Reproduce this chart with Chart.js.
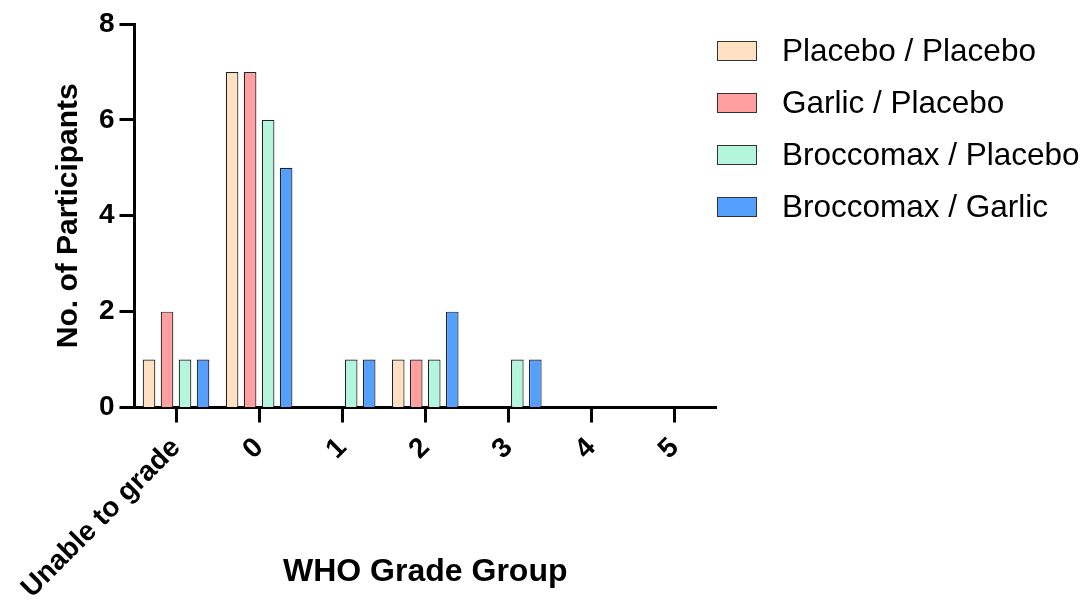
<!DOCTYPE html>
<html>
<head>
<meta charset="utf-8">
<script src="https://cdn.jsdelivr.net/npm/chart.js@4/dist/chart.umd.min.js"></script>
<style>
  html, body { margin: 0; padding: 0; background: #fff; }
  #wrap { position: relative; width: 1083px; height: 601px; }
  #legend {
    position: absolute; left: 717px; top: 24.5px;
    font-family: 'Liberation Sans', Arial, sans-serif; font-size: 31.5px; color: #000;
  }
  .row { height: 52px; display: flex; align-items: center; white-space: nowrap; }
  .swatch { width: 40px; height: 20px; box-sizing: border-box; border: 1px solid #333; margin-right: 25px; flex: none; }
</style>
</head>
<body>
<div id="wrap">
  <canvas id="chart" width="1083" height="601"></canvas>
  <div id="legend"></div>
</div>
<script>
// WHO grade groups on the x axis
const categories = ['Unable to grade', '0', '1', '2', '3', '4', '5'];

// Participant counts per treatment arm
const seriesNames = ['Placebo / Placebo', 'Garlic / Placebo', 'Broccomax / Placebo', 'Broccomax / Garlic'];
const placeboPlacebo   = [1, 7, 0, 1, 0, 0, 0];
const garlicPlacebo    = [2, 7, 0, 1, 0, 0, 0];
const broccomaxPlacebo = [1, 6, 1, 1, 1, 0, 0];
const broccomaxGarlic  = [1, 5, 1, 2, 1, 0, 0];
const seriesColors = ['#FFE0C2', '#FF9F9F', '#B3F5DD', '#55A0FF'];

// y-axis tick values
const yTicks = [0, 2, 4, 6, 8];

const seriesValues = [placeboPlacebo, garlicPlacebo, broccomaxPlacebo, broccomaxGarlic];

Chart.defaults.font.family = "'Liberation Sans', Arial, sans-serif";
Chart.defaults.color = '#000';

const tickFont = { size: 28, weight: 'bold' };

new Chart(document.getElementById('chart'), {
  type: 'bar',
  data: {
    labels: categories,
    datasets: seriesNames.map((name, i) => ({
      label: name,
      data: seriesValues[i],
      backgroundColor: seriesColors[i],
      borderColor: '#222',
      borderWidth: 1.2,
      borderSkipped: 'start',
      barPercentage: 0.7,
      categoryPercentage: 0.867
    }))
  },
  options: {
    responsive: false,
    animation: false,
    layout: { padding: { left: 40, right: 367, top: 24, bottom: 0 } },
    plugins: {
      legend: { display: false },
      tooltip: { enabled: false }
    },
    scales: {
      x: {
        offset: true,
        grid: {
          display: true, offset: false, drawOnChartArea: false,
          tickLength: 15, tickWidth: 3, tickColor: '#000'
        },
        border: { display: true, width: 3, color: '#000' },
        ticks: {
          autoSkip: false, minRotation: 45, maxRotation: 45, padding: 9,
          color: '#000', font: tickFont
        },
        title: {
          display: true, text: 'WHO Grade Group', color: '#000',
          font: { size: 32, weight: 'bold' }, padding: { top: 0, bottom: 10 }
        },
        afterFit(scale) {
          scale.height = 193.5;
          scale.paddingLeft = 0;
          scale.paddingRight = 0;
        }
      },
      y: {
        min: 0, max: 8,
        afterBuildTicks(scale) {
          scale.ticks = yTicks.map(v => ({ value: v }));
        },
        grid: {
          display: true, drawOnChartArea: false,
          tickLength: 15, tickWidth: 3, tickColor: '#000'
        },
        border: { display: true, width: 3, color: '#000' },
        ticks: { padding: 5, color: '#000', font: tickFont },
        title: {
          display: true, text: 'No. of Participants', color: '#000',
          font: { size: 30, weight: 'bold' }, padding: { top: 11, bottom: 0 }
        },
        afterFit(scale) {
          scale.width = 94.5;
        }
      }
    }
  }
});

// Legend built from the same series names and colours
const legend = document.getElementById('legend');
seriesNames.forEach((name, i) => {
  const row = document.createElement('div');
  row.className = 'row';
  const sw = document.createElement('span');
  sw.className = 'swatch';
  sw.style.background = seriesColors[i];
  const txt = document.createElement('span');
  txt.textContent = name;
  row.appendChild(sw);
  row.appendChild(txt);
  legend.appendChild(row);
});
</script>
</body>
</html>
